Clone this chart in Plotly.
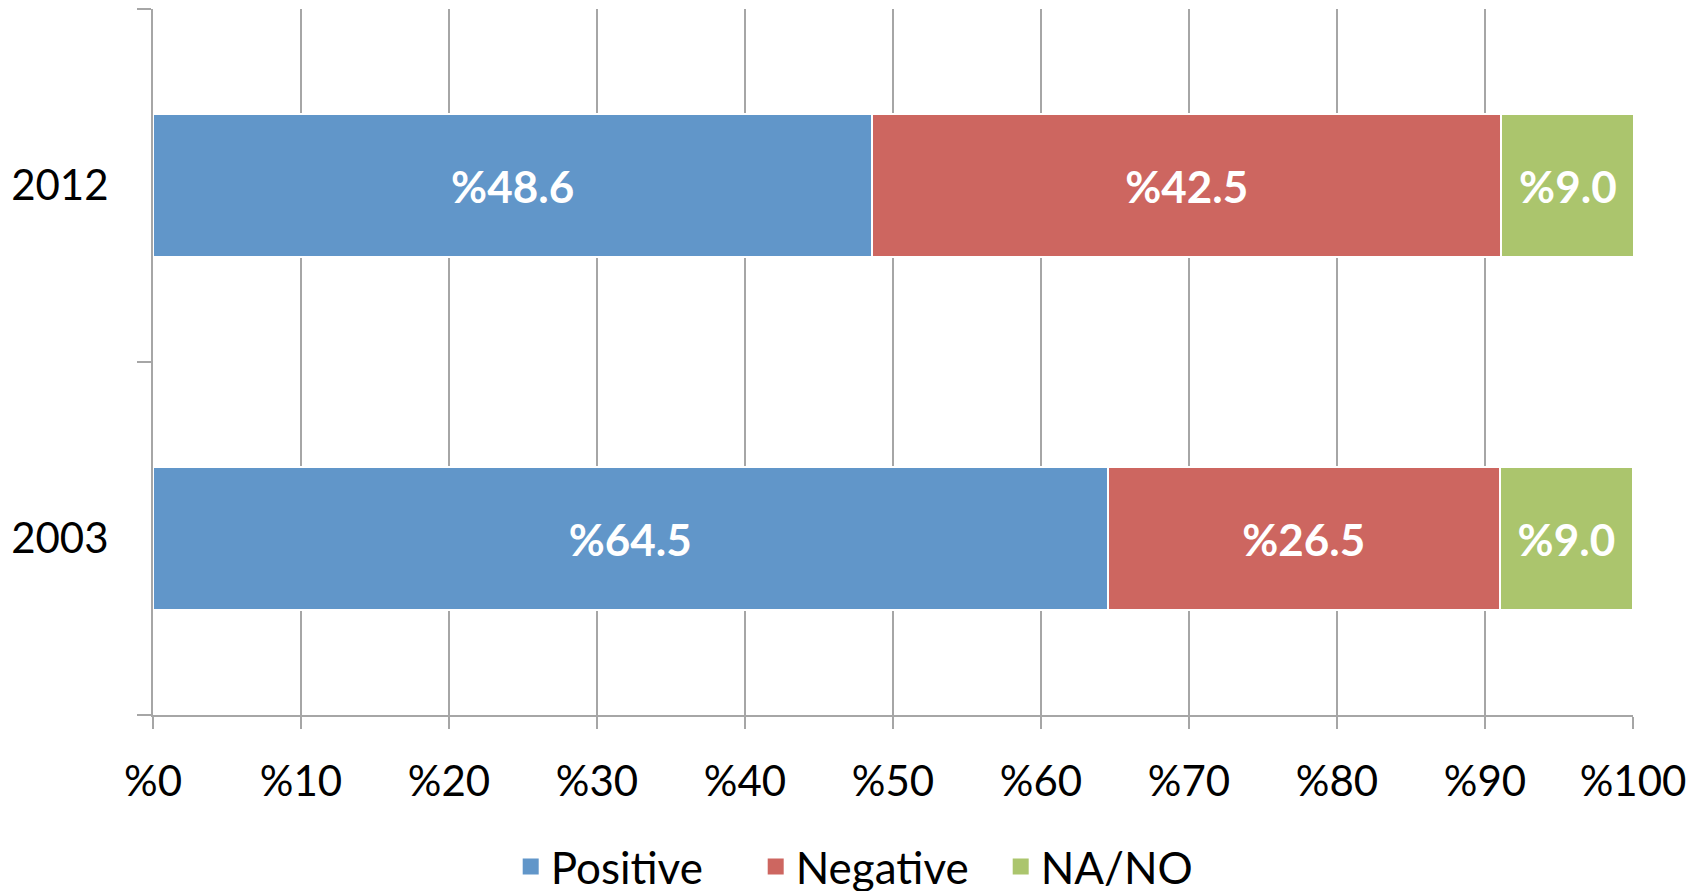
import plotly.graph_objects as go

years = ["2003", "2012"]
positive = [64.5, 48.6]
negative = [26.5, 42.5]
na_no = [9.0, 9.0]

POS = "#6196c9"
NEG = "#cd6660"
NA = "#abc56d"
GRID = "#a6a6a6"
FONT = "Lato, Open Sans, sans-serif"

fig = go.Figure()
for name, vals, color in [("Positive", positive, POS),
                          ("Negative", negative, NEG),
                          ("NA/NO", na_no, NA)]:
    fig.add_trace(go.Bar(
        y=years, x=vals, name=name, orientation="h", showlegend=False,
        marker=dict(color=color, line=dict(color="white", width=2)),
        texttemplate="%%{x:.1f}", textposition="inside",
        insidetextanchor="middle",
        textfont=dict(color="white", size=44, family=FONT, weight="bold"),
    ))
    # legend-only entry so the swatch can be a bigger square
    fig.add_trace(go.Scatter(
        x=[None], y=[None], name=name, mode="markers",
        marker=dict(symbol="square", size=22, color=color),
    ))

fig.update_layout(
    barmode="stack",
    bargap=0.595,
    width=1705, height=891,
    margin=dict(l=145, r=80, t=1, b=184),
    plot_bgcolor="white", paper_bgcolor="white",
    font=dict(family=FONT, size=42, color="black"),
    legend=dict(orientation="h", x=0.49, xanchor="center",
                yref="container", y=0.036, yanchor="middle",
                font=dict(size=44), itemwidth=30, entrywidth=200,
                traceorder="normal", itemsizing="trace"),
)
fig.update_xaxes(
    range=[0, 100], dtick=10, tickprefix="%",
    showgrid=True, gridcolor=GRID, gridwidth=2,
    showline=True, linecolor=GRID, linewidth=2,
    ticks="outside", ticklen=12, tickcolor=GRID, tickwidth=2,
    ticklabelstandoff=17, zeroline=False, automargin=False,
)
fig.update_yaxes(
    type="category", categoryorder="array", categoryarray=years,
    showline=True, linecolor=GRID, linewidth=2,
    ticks="outside", tickson="boundaries", ticklen=14,
    tickcolor=GRID, tickwidth=2, ticklabelstandoff=34,
    showgrid=False, automargin=False,
)

fig.write_html("out.html")
